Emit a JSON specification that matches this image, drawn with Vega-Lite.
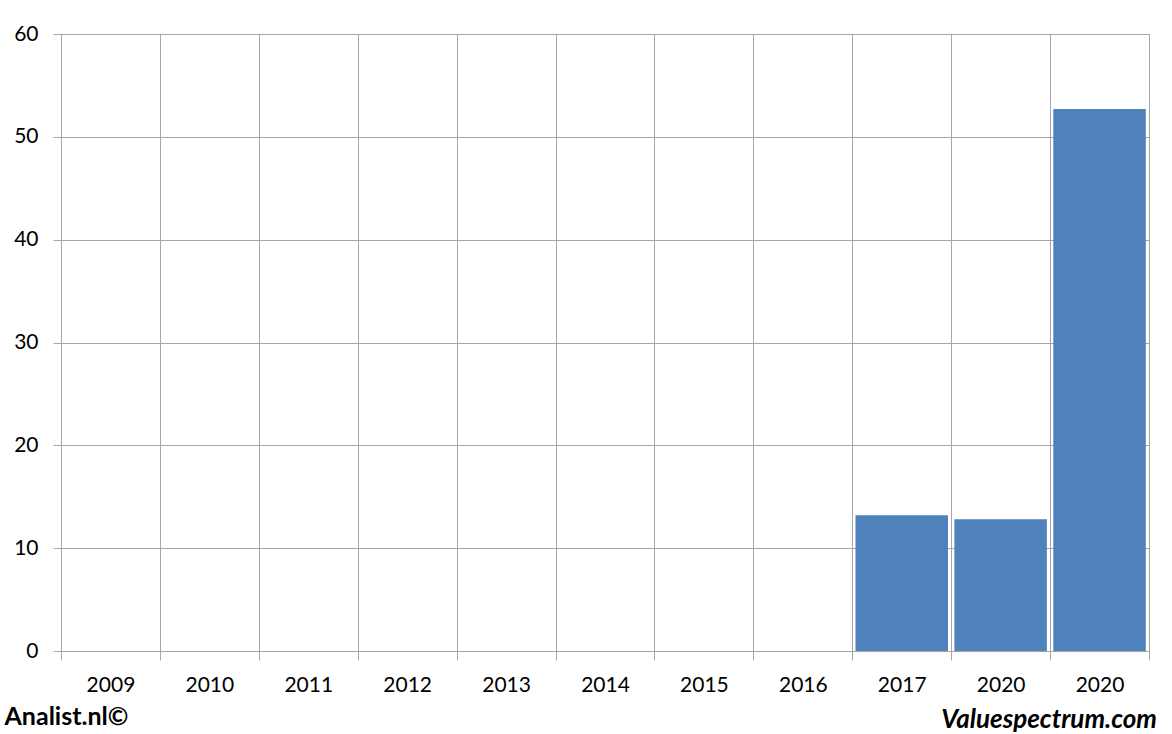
{
  "$schema": "https://vega.github.io/schema/vega-lite/v6.json",
  "width": 1088,
  "height": 617,
  "autosize": {"type": "none"},
  "padding": {"left": 61, "top": 34, "right": 23, "bottom": 83},
  "background": "white",
  "data": {
    "values": [
      {"period": "2009", "value": 0},
      {"period": "2010", "value": 0},
      {"period": "2011", "value": 0},
      {"period": "2012", "value": 0},
      {"period": "2013", "value": 0},
      {"period": "2014", "value": 0},
      {"period": "2015", "value": 0},
      {"period": "2016", "value": 0},
      {"period": "2017", "value": 13.2},
      {"period": "2020a", "value": 12.8},
      {"period": "2020b", "value": 52.7}
    ]
  },
  "title": {
    "text": "Valuespectrum.com",
    "orient": "bottom",
    "anchor": "end",
    "frame": "group",
    "font": "Lato",
    "fontSize": 26,
    "fontWeight": "bold",
    "fontStyle": "italic",
    "color": "black",
    "offset": -22,
    "dx": 8
  },
  "mark": {"type": "bar", "color": "#4f81bd", "width": {"band": 0.935}},
  "encoding": {
    "x": {
      "field": "period",
      "type": "ordinal",
      "sort": null,
      "scale": {"paddingInner": 0, "paddingOuter": 0},
      "axis": {
        "title": "Analist.nl©",
        "titleFont": "Lato",
        "titleFontSize": 25,
        "titleFontWeight": "bold",
        "titleColor": "black",
        "titleAnchor": "start",
        "titleAlign": "left",
        "titleX": -57,
        "titleY": 73,
        "titleBaseline": "alphabetic",
        "labelAngle": 0,
        "labelExpr": "substring(datum.label, 0, 4)",
        "labelFont": "Lato",
        "labelFontSize": 21,
        "labelColor": "black",
        "labelPadding": 14,
        "tickBand": "extent",
        "ticks": true,
        "tickSize": 9,
        "tickColor": "#a6a6a6",
        "domainColor": "#a6a6a6",
        "grid": true,
        "gridColor": "#a6a6a6",
        "gridOpacity": 1
      }
    },
    "y": {
      "field": "value",
      "type": "quantitative",
      "scale": {"domain": [0, 60], "nice": false},
      "axis": {
        "title": null,
        "values": [0, 10, 20, 30, 40, 50, 60],
        "labelFont": "Lato",
        "labelFontSize": 21,
        "labelColor": "black",
        "labelPadding": 15,
        "tickSize": 8,
        "tickColor": "#a6a6a6",
        "domainColor": "#a6a6a6",
        "gridColor": "#a6a6a6",
        "gridOpacity": 1
      }
    }
  },
  "config": {"view": {"stroke": "#a6a6a6"}}
}
